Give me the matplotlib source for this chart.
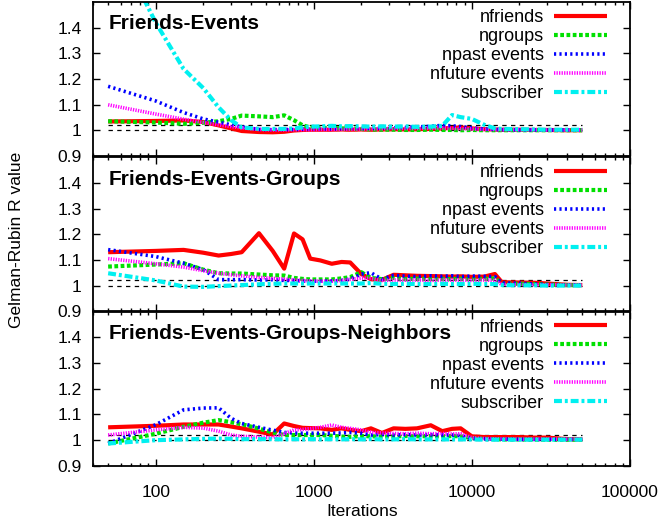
import numpy as np
import matplotlib
matplotlib.use("Agg")
import matplotlib.pyplot as plt

plt.rcParams['font.family'] = ['Liberation Sans', 'DejaVu Sans']

# iteration counts at which R was evaluated
iters = [50, 100, 150, 200, 250, 300, 350, 450, 550, 650, 750, 850, 950,
         1100, 1300, 1500, 1700, 2000, 2300, 2700, 3200, 3800, 4500, 5500,
         6500, 7500, 8500, 10000, 12000, 14000, 15500, 20000, 25000, 30000,
         40000, 50000]

labels = ["nfriends", "ngroups", "npast events", "nfuture events", "subscriber"]

# Friends-Events
fe_nfriends = [1.035, 1.037, 1.039, 1.033, 1.020, 1.008, 0.998, 0.994, 0.993, 0.995, 1.000, 1.002, 1.003,
               1.003, 1.003, 1.004, 1.003, 1.004, 1.003, 1.004, 1.005, 1.004, 1.005, 1.006,
               1.008, 1.010, 1.012, 1.008, 1.005, 1.004, 1.003, 1.003, 1.002, 1.002, 1.001, 1.001]
fe_ngroups = [1.036, 1.031, 1.026, 1.030, 1.036, 1.045, 1.058, 1.055, 1.052, 1.059, 1.040, 1.020, 1.012,
              1.010, 1.010, 1.008, 1.008, 1.006, 1.004, 1.003, 1.003, 1.002, 1.002, 1.003,
              1.002, 1.002, 1.001, 1.002, 1.001, 1.001, 1.001, 1.001, 1.001, 1.001, 1.001, 1.001]
fe_npast = [1.172, 1.115, 1.070, 1.045, 1.032, 1.022, 1.014, 1.004, 1.003, 1.004, 1.004, 1.005, 1.005,
            1.006, 1.006, 1.007, 1.008, 1.008, 1.009, 1.010, 1.010, 1.012, 1.014, 1.016,
            1.020, 1.018, 1.015, 1.010, 1.006, 1.004, 1.003, 1.002, 1.002, 1.002, 1.002, 1.002]
fe_nfuture = [1.100, 1.064, 1.044, 1.031, 1.022, 1.015, 1.010, 1.004, 1.002, 1.002, 1.003, 1.003, 1.003,
              1.004, 1.004, 1.005, 1.005, 1.006, 1.006, 1.007, 1.008, 1.008, 1.008, 1.009,
              1.010, 1.008, 1.007, 1.006, 1.004, 1.004, 1.003, 1.003, 1.003, 1.002, 1.002, 1.002]
fe_subscriber = [1.790, 1.420, 1.240, 1.165, 1.090, 1.040, 1.012, 1.006, 1.006, 1.006, 1.008, 1.012, 1.015,
                 1.016, 1.018, 1.016, 1.017, 1.016, 1.015, 1.016, 1.015, 1.016, 1.014, 1.015,
                 1.018, 1.060, 1.052, 1.045, 1.022, 1.008, 1.006, 1.005, 1.004, 1.003, 1.003, 1.003]

# Friends-Events-Groups
feg_nfriends = [1.130, 1.135, 1.139, 1.128, 1.117, 1.123, 1.130, 1.204, 1.135, 1.066, 1.203, 1.180, 1.105,
                1.098, 1.085, 1.092, 1.090, 1.045, 1.025, 1.022, 1.042, 1.040, 1.038, 1.037,
                1.036, 1.035, 1.036, 1.034, 1.035, 1.045, 1.013, 1.012, 1.011, 1.008, 1.003, 1.002]
feg_ngroups = [1.074, 1.082, 1.087, 1.062, 1.048, 1.047, 1.047, 1.043, 1.040, 1.039, 1.030, 1.026, 1.024,
               1.024, 1.024, 1.028, 1.033, 1.052, 1.030, 1.025, 1.030, 1.025, 1.027, 1.025,
               1.026, 1.025, 1.027, 1.025, 1.026, 1.028, 1.008, 1.007, 1.006, 1.004, 1.002, 1.001]
feg_npast = [1.140, 1.113, 1.087, 1.062, 1.023, 1.023, 1.023, 1.022, 1.023, 1.020, 1.020, 1.018, 1.017,
             1.017, 1.018, 1.020, 1.025, 1.045, 1.050, 1.025, 1.040, 1.037, 1.035, 1.038,
             1.036, 1.038, 1.035, 1.037, 1.036, 1.035, 1.010, 1.009, 1.006, 1.004, 1.003, 1.002]
feg_nfuture = [1.105, 1.085, 1.072, 1.058, 1.048, 1.042, 1.038, 1.032, 1.028, 1.025, 1.022, 1.020, 1.018,
               1.017, 1.017, 1.020, 1.024, 1.030, 1.028, 1.020, 1.022, 1.021, 1.022, 1.020,
               1.022, 1.021, 1.022, 1.020, 1.022, 1.020, 1.004, 1.004, 1.003, 1.003, 1.002, 1.002]
feg_subscriber = [1.048, 1.020, 0.996, 0.995, 0.998, 1.000, 1.002, 1.005, 1.007, 1.008, 1.008, 1.008, 1.008,
                  1.008, 1.008, 1.008, 1.008, 1.008, 1.010, 1.007, 1.006, 1.007, 1.006, 1.006,
                  1.007, 1.006, 1.006, 1.007, 1.006, 1.006, 1.002, 1.001, 1.001, 1.000, 1.000, 1.000]

# Friends-Events-Groups-Neighbors
fegn_nfriends = [1.050, 1.056, 1.061, 1.061, 1.061, 1.053, 1.046, 1.033, 1.022, 1.065, 1.055, 1.048, 1.047,
                 1.046, 1.040, 1.046, 1.040, 1.035, 1.046, 1.028, 1.046, 1.044, 1.046, 1.058,
                 1.035, 1.044, 1.046, 1.015, 1.012, 1.012, 1.012, 1.012, 1.010, 1.010, 1.004, 1.003]
fegn_ngroups = [0.987, 1.025, 1.052, 1.068, 1.078, 1.070, 1.062, 1.045, 1.030, 1.020, 1.020, 1.020, 1.020,
                1.020, 1.017, 1.014, 1.013, 1.016, 1.015, 1.014, 1.015, 1.016, 1.015, 1.016,
                1.015, 1.016, 1.015, 1.008, 1.005, 1.004, 1.003, 1.003, 1.002, 1.002, 1.002, 1.002]
fegn_npast = [0.987, 1.060, 1.118, 1.125, 1.126, 1.085, 1.065, 1.050, 1.039, 1.030, 1.028, 1.027, 1.027,
              1.027, 1.027, 1.028, 1.030, 1.027, 1.020, 1.022, 1.020, 1.022, 1.020, 1.021,
              1.020, 1.020, 1.018, 1.006, 1.005, 1.004, 1.004, 1.003, 1.003, 1.003, 1.003, 1.003]
fegn_nfuture = [1.020, 1.040, 1.050, 1.047, 1.035, 1.020, 1.015, 1.012, 1.010, 1.025, 1.040, 1.042, 1.045,
                1.050, 1.059, 1.050, 1.046, 1.040, 1.030, 1.028, 1.026, 1.025, 1.027, 1.025,
                1.026, 1.024, 1.025, 1.010, 1.006, 1.005, 1.005, 1.004, 1.004, 1.004, 1.004, 1.004]
fegn_subscriber = [0.987, 1.000, 1.003, 1.005, 1.006, 1.005, 1.004, 1.004, 1.004, 1.003, 1.004, 1.003, 1.004,
                   1.003, 1.004, 1.003, 1.004, 1.003, 1.004, 1.003, 1.003, 1.004, 1.003, 1.003,
                   1.003, 1.003, 1.003, 1.003, 1.002, 1.002, 1.002, 1.002, 1.002, 1.002, 1.002, 1.002]

panels = [
    ("Friends-Events", [fe_nfriends, fe_ngroups, fe_npast, fe_nfuture, fe_subscriber]),
    ("Friends-Events-Groups", [feg_nfriends, feg_ngroups, feg_npast, feg_nfuture, feg_subscriber]),
    ("Friends-Events-Groups-Neighbors", [fegn_nfriends, fegn_ngroups, fegn_npast, fegn_nfuture, fegn_subscriber]),
]

# line styles, gnuplot-ish
styles = [
    dict(color='#ff0000', lw=3.0, ls='-'),
    dict(color='#00e000', lw=3.0, ls=(0, (0.9, 0.6))),
    dict(color='#0000ff', lw=2.6, ls=(0, (0.6, 0.9))),
    dict(color='#ff00ff', lw=2.6, ls=(0, (0.35, 0.35))),
    dict(color='#00f0f0', lw=3.0, ls=(0, (1.9, 0.7, 0.7, 0.7))),
]

fig = plt.figure(figsize=(6.63, 5.24), dpi=100)

left = 0.140
width = 0.810
bottoms = [0.702, 0.406, 0.111]
height = 0.294

for i, (title, series) in enumerate(panels):
    ax = fig.add_axes((left, bottoms[i], width, height))

    for y, lab, st in zip(series, labels, styles):
        ax.plot(iters, y, label=lab, color=st['color'], lw=st['lw'],
                linestyle=st['ls'], dash_capstyle='butt', solid_capstyle='butt')

    # convergence thresholds
    ax.plot([50, 50000], [1.0, 1.0], color='k', lw=0.9, dashes=(3.5, 3.5), zorder=1)
    ax.plot([50, 50000], [1.02, 1.02], color='k', lw=0.9, dashes=(3.5, 3.5), zorder=1)

    ax.set_xscale('log')
    ax.set_xlim(40, 100000)
    ax.set_ylim(0.9, 1.5)

    ax.set_yticks([0.9, 1.0, 1.1, 1.2, 1.3, 1.4])
    ax.set_yticklabels(['0.9', '1', '1.1', '1.2', '1.3', '1.4'])
    ax.set_xticks([100, 1000, 10000, 100000])
    if i == 2:
        ax.set_xticklabels(['100', '1000', '10000', '100000'])
    else:
        ax.set_xticklabels([])

    ax.tick_params(which='both', direction='in', top=True, right=True, labelsize=12.5)
    ax.tick_params(which='major', length=5, width=1)
    ax.tick_params(which='minor', length=2.5, width=1)
    ax.tick_params(axis='x', pad=14)
    ax.tick_params(axis='y', pad=8)
    for sp in ax.spines.values():
        sp.set_linewidth(1.3)

    ax.text(0.03, 0.92, title, transform=ax.transAxes, fontsize=15,
            fontweight='bold', va='top', ha='left')

    ax.legend(loc='upper right', bbox_to_anchor=(0.957, 0.955), frameon=False,
              markerfirst=False, fontsize=13, handlelength=2.9,
              handletextpad=0.6, labelspacing=0.11, borderpad=0, borderaxespad=0)

fig.text(17 / 663, 1 - 240 / 524, 'Gelman-Rubin R value', rotation=90,
         ha='center', va='center', fontsize=12.5)
fig.text(362 / 663, 1 - 512 / 524, 'Iterations', ha='center', va='center', fontsize=12.5)

fig.savefig('out.png', dpi=100)
